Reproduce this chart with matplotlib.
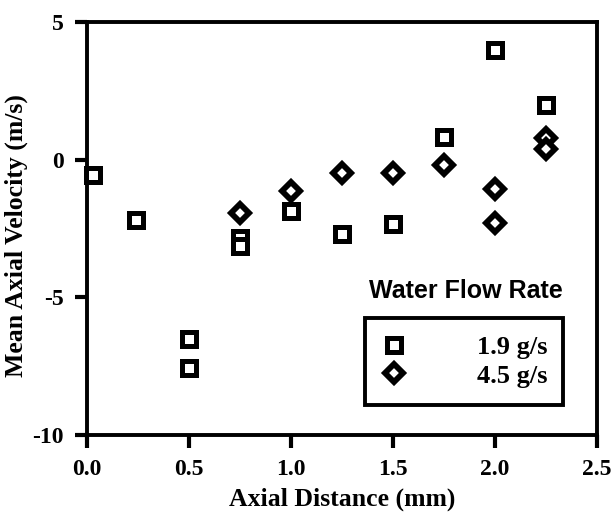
import matplotlib
matplotlib.use("Agg")
import matplotlib.pyplot as plt

# data
x_19 = [0.03, 0.24, 0.5, 0.5, 0.75, 0.75, 1.0, 1.25, 1.5, 1.75, 2.0, 2.25]
v_19 = [-0.55, -2.2, -6.5, -7.55, -2.85, -3.15, -1.85, -2.7, -2.35, 0.82, 3.98, 1.97]
x_45 = [0.75, 1.0, 1.25, 1.5, 1.75, 2.0, 2.0, 2.25, 2.25]
v_45 = [-1.95, -1.15, -0.5, -0.5, -0.18, -1.05, -2.3, 0.78, 0.4]
xticks = [0.0, 0.5, 1.0, 1.5, 2.0, 2.5]
yticks = [-10, -5, 0, 5]

serif = 'Liberation Serif'

fig = plt.figure(figsize=(6.15, 5.16), dpi=100)
ax = fig.add_axes([0.1415, 0.157, 0.8293, 0.8004])

ax.plot(x_19, v_19, 's', ms=10.5, mfc='white', mec='black', mew=3.6, label='1.9 g/s', clip_on=False)
ax.plot(x_45, v_45, 'D', ms=9, mfc='white', mec='black', mew=4.2, label='4.5 g/s', clip_on=False)

ax.set_xlim(0, 2.5)
ax.set_ylim(-10, 5)
ax.set_xticks(xticks)
ax.set_xticklabels(['%.1f' % t for t in xticks])
ax.set_yticks(yticks)
ax.set_yticklabels([str(t) for t in yticks])
ax.tick_params(direction='out', length=9, width=3, pad=8)
for lab in ax.get_xticklabels() + ax.get_yticklabels():
    lab.set_fontfamily(serif)
    lab.set_fontweight('bold')
    lab.set_fontsize(17)
for sp in ax.spines.values():
    sp.set_linewidth(2.8)

ax.set_xlabel('Axial Distance (mm)', family=serif, weight='bold', fontsize=18.5, labelpad=6)
ax.set_ylabel('Mean Axial Velocity (m/s)', family=serif, weight='bold', fontsize=18.5)
ax.yaxis.set_label_coords(-0.116, 0.482)

leg = ax.legend(loc='lower left', bbox_to_anchor=(0.545, 0.073, 0.388, 0.225), mode='expand',
                frameon=True, fancybox=False, handletextpad=2.7, handlelength=0.9,
                borderpad=0.65, labelspacing=0.2, borderaxespad=0,
                prop={'family': serif, 'weight': 'bold', 'size': 19})
leg.get_frame().set_edgecolor('black')
leg.get_frame().set_linewidth(2.8)
leg.get_frame().set_alpha(1)

ax.text(0.743, 0.349, 'Water Flow Rate', transform=ax.transAxes, ha='center', va='center',
        family='Liberation Sans', weight='bold', fontsize=18)

fig.savefig('out.png', dpi=100)
